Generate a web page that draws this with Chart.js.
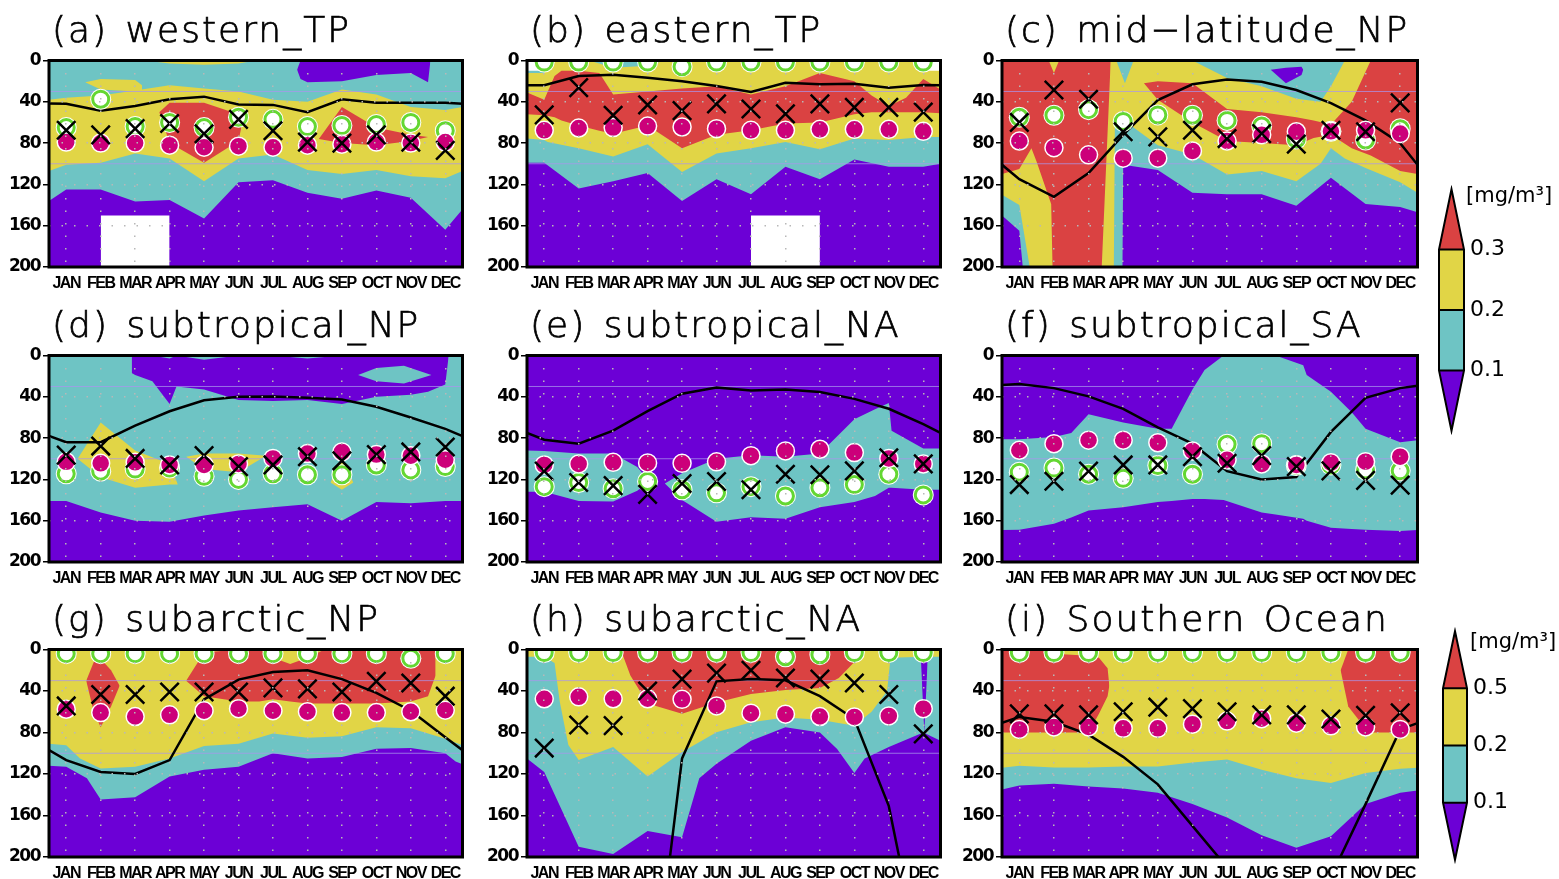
<!DOCTYPE html>
<html><head><meta charset="utf-8">
<script src="https://cdn.jsdelivr.net/npm/chart.js@4/dist/chart.umd.min.js"></script>
<style>
html,body{margin:0;padding:0;background:#fff;}
body{width:1559px;height:879px;overflow:hidden;position:relative;}
.ttl{position:absolute;font-family:'DejaVu Sans ExtraLight','DejaVu Sans',sans-serif;font-weight:200;font-size:36px;line-height:36px;white-space:pre;color:#000;letter-spacing:2px;word-spacing:4px;-webkit-text-stroke:0.7px #000;}
.unit{position:absolute;font-family:'DejaVu Sans',sans-serif;font-size:21px;line-height:22px;white-space:pre;color:#000;}
</style></head><body>
<script>
// ---------- categories / ticks ----------
const MONTHS = ['JAN','FEB','MAR','APR','MAY','JUN','JUL','AUG','SEP','OCT','NOV','DEC'];
const DEPTH_TICKS = [0,40,80,120,160,200];
const REF_DEPTHS = [30,100];
const EDGE_X = [0.5,1,2,3,4,5,6,7,8,9,10,11,12,12.5];
const CB1_LABELS = ['0.1','0.2','0.3'];
const CB2_LABELS = ['0.1','0.2','0.5'];

// ---------- (a) western_TP ----------
const a_mld   = [41.6,42,48.6,44,37.5,35,42.5,43,50,37.5,41,41,41,42];
const a_cross = [67.6,72,66,61,71,57,68,79,80,72,79,87];
const a_pink  = [79,80,80,82,84,83,84,82,81,79,80,79];
const a_ring  = [65,37.5,64,60,65,55,57,64,63,62,60,68];
const a_cyan  = [[0.5,0,136],[1,0,125],[2,0,125],[3,0,136.5],[4,0,135],[5,0,153],[6,0,118],[7,0,116],[8,0,128],[9,0,134],[10,0,126],[11,0,133],[12,0,164],[12.5,0,144]];
const a_purpTop = [[7.7,9,9],[7.8,0,18],[8,0,21],[9,0,20],[10,0,14],[11,0,12],[11.5,0,21],[11.57,0,0]];
const a_yellow = [[0.5,38,107],[1,36,101],[2,34,99],[3,29,90],[4,24,95],[5,27,117],[6,30,95],[7,38,91],[8,40,106],[9,28,110],[10,33,106],[11,45,112],[12,48,114],[12.5,45,107]];
const a_tongue = [[1.55,21,21],[2,18,28],[3,19,30],[3.2,24,30]];
const a_yelTop = [[3.3,0,0],[4,0,3],[5,0,4],[6,0,3],[6.5,0,0]];
const a_red1 = [[3.7,50,50],[4,41,80],[5,41,99],[6,52,78],[6.08,65,65]];
const a_red2 = [[8.33,76,76],[9,45,80],[10,65,82],[11,72,78],[11.5,74,74]];
const a_white = [[2,150,200],[4,150,200]];

// ---------- (b) eastern_TP ----------
const b_mld   = [24,24,15,13.7,16.8,20,24.8,30.5,21.6,23,22.5,26.3,23.8,24];
const b_cross = [52.7,26.3,53,43,48.6,42,47,51.7,42,45.4,45.4,50];
const b_pink  = [67.6,65.4,65,63.5,64.4,66,67.6,67.6,66.7,66.7,66.7,68.6];
const b_ring  = [1.5,1.5,1.5,1.5,6,1.5,1.5,1.5,1.5,1.5,1.5,1.5];
const b_cyan  = [[0.5,0,99],[1,0,99],[2,0,124],[3,0,117],[4,0,109],[5,0,136],[6,0,115],[7,0,129.5],[8,0,103],[9,0,115],[10,0,96],[11,0,103],[12,0,103],[12.5,0,100]];
const b_yellow = [[0.5,12,75.5],[1,12,77],[1.1,0,79],[2,0,85],[3,0,93],[4,0,81],[5,0,108],[6,0,90],[7,0,85],[8,0,79],[9,0,86],[10,0,75.5],[11,0,77],[12,0,74],[12.5,0,74]];
const b_cyanTop = [[2.3,0,0],[3,0,7],[4,0,5],[4.5,0,0]];
const b_red = [[0.5,31,52],[1,38,53],[1.3,15,55],[1.5,10,58],[2,10,63],[2.6,12,68],[3,33,71],[4,30,63],[5,27,85],[6,25,72],[7,33,67.6],[8,25,61],[9,12,60],[10,20,52],[10.5,34,50],[11,44,50],[11.5,36,50],[12,18,50],[12.5,28,51]];
const b_whiteL = [[0.5,0,10],[1.03,0,10]];
const b_whiteR = [[12.1,0,10],[12.5,0,10]];
const b_white = [[7,150,200],[9,150,200]];

// ---------- (c) mid-latitude_NP ----------
const c_mld   = [101,115,132,109,72,38.4,23,18.4,20.6,28.6,41.3,58,80,101];
const c_cross = [60,28.6,37.5,69,74,67.6,75.6,70.8,81,67.6,69,41];
const c_pink  = [78,84.4,91.4,94.6,94.6,87.6,78,72,69,68.6,67.6,70.8];
const c_ring  = [55,53,47.6,59,52.7,53,58,63.5,76,68.6,77,66];
const c_cyan  = [[0.5,0,150],[1,0,165],[1.1,0,200],[3.98,0,200],[4,0,101],[5,0,106],[6,0,128],[7,0,129.5],[8,0,129.5],[9,0,140.6],[10,0,113.6],[11,0,139],[12,0,142],[12.5,0,147]];
const c_purpTop = [[8.26,9,9],[8.7,7,22],[9.15,6,14],[9.2,9,9]];
const c_yellow = [[0.5,0,130],[1,0,140],[1.3,0,200],[3.73,0,200],[3.76,0,60],[3.8,0,55],[4.05,22,55],[4.3,0,65],[5,0,82],[6,0,91],[7,17,110.5],[8,25,107],[9,37,117],[9.7,40,100],[10,25,85],[10.4,0,95],[11,0,104],[12,0,118],[12.5,0,128]];
const c_red1 = [[0.5,0,110],[1,0,105],[1.35,0,85],[1.5,0,98],[1.92,0,139],[1.96,0,200],[3.38,0,200],[3.64,0,0]];
const c_yelNotch = [[1.85,0,0],[2,0,12],[2.15,0,0]];
const c_red2 = [[4.6,22,22],[5,20,38],[6,22,60],[7,47,78],[8,50,80],[9,55,82],[9.5,58,75],[10,62,72],[10.6,40,85],[11.15,0,92],[12,0,107],[12.5,0,110]];

// ---------- (d) subtropical_NP ----------
const d_mld   = [78,83.9,84,68,54,43.4,40,39.6,41,42.7,49.7,60,71,78];
const d_cross = [96.5,87.7,99.7,106,97,107.6,106,98,102,96,93.4,88.6];
const d_pink  = [103,104.4,103.5,106,106,105,99.7,95,93.4,96,97,101];
const d_ring  = [114.6,112,110,109,117,120,114.6,115.5,115.5,106,110.8,107.6];
const d_cyan  = [[0.5,0,140.8],[1,0,141],[2,0,152],[3,0,160],[4,0,161],[5,0,155],[6,0,150],[7,0,147],[8,0,144],[9,0,160],[10,0,142],[11,0,143],[12,0,141],[12.5,0,141]];
const d_purpTop = [[2.9,0,17],[3,0,19],[3.5,0,25],[4,3,47],[4.2,0,30],[5,4,33],[6,0,43],[7,0,44],[8,3,43],[9,0,47],[10,0,40],[11,0,38],[11.5,0,35],[12,0,28],[12.1,0,0]];
const d_cyanDia = [[9.47,19,19],[10,12,25],[10.8,10,27],[11.6,19,19]];
const d_yel1 = [[1.33,100,100],[2,65,118],[3,92,128],[4,105,125],[4.24,125,125]];
const d_yel2 = [[4.48,98,98],[5,95,110],[6,95,113],[6.8,97,97]];
const d_yel3 = [[8.67,123,123],[9,100,130],[9.33,123,123]];

// ---------- (e) subtropical_NA ----------
const e_mld   = [75,81.6,85.4,72.8,53.8,37,31,33.9,33,35.4,42,51.6,66.5,75];
const e_cross = [112,123,126,134.5,124,122,130,115,115.5,111.7,99,105];
const e_pink  = [106,105,103.5,104,104.4,103,97,92.4,90.8,94,99.7,105];
const e_ring  = [127,123,129,122,130,133,127,136,128,125,115,135];
const e_cyan1 = [[0.5,92,132],[1,92.4,132],[2,95,141],[3,95,141.5],[3.7,108,131],[4.05,122,122]];
const e_cyan2 = [[4.5,124,124],[5,114,140],[6,100,161],[7,96.5,156.6],[8,98,158],[9,95,147],[10,61.7,142],[10.6,52,136],[11,46,128],[11.08,73,128],[12,90,130],[12.5,90,130]];

// ---------- (f) subtropical_SA ----------
const f_mld   = [28.5,27.5,31.6,39.6,51.6,69.6,85.4,112,120,117.7,74,41,31.6,29.4];
const f_cross = [125,121.8,112,106,106,98,104.4,97,107.6,111.7,121,125.6];
const f_pink  = [91.8,85.4,82,82,84.5,92.4,101,105,106,103.8,102.8,98];
const f_ring  = [113,109,115,119,106.6,115,86,85.4,106.6,106,110.8,111.7];
const f_cyan  = [[0.5,81,169],[1,81,168.7],[2,79,163],[2.5,75,157],[3,57,150],[4,65,147],[5,71,142],[5.4,71,141],[6,33,139],[6.35,14,139],[6.9,0,140],[8,0,152],[8.4,0,154],[9.2,9.5,158],[9.3,19,160],[10,35,166.8],[10.6,55,168],[11,71,168.7],[12,84,170],[12.5,82,169]];

// ---------- (g) subarctic_NP ----------
const g_mld   = [97,106.6,118,120,106.6,48,29,21.8,20,28.5,41.8,59,84.5,97];
const g_cross = [54.4,43.4,43.4,41,41,41,37,38,41,30.7,32.3,45];
const g_pink  = [57.6,60.8,64.6,63,59,57,59,60,60.8,60.8,60,58.5];
const g_ring  = [4,4,4,4,4,4,4,4,4,4,8.5,4];
const g_cyan  = [[0.5,0,112],[1,0,113],[1.6,0,124],[2,0,144.6],[3,0,142.4],[4,0,122.5],[5,0,116],[6,0,113],[7,0,100],[8,0,105],[9,0,103.5],[10,0,95.6],[11,0,95],[12,0,100],[12.3,0,108],[12.5,0,110.7]];
const g_yellow = [[0.5,0,90.8],[1,0,92.4],[1.4,0,105],[2,0,114.6],[3,0,113],[4,0,105],[5,0,93],[6,0,90.8],[7,0,81],[8,0,85],[9,0,83.5],[10,0,75],[11,0,76],[12,0,86],[12.5,0,92.4]];
const g_red1 = [[1.58,30,30],[1.8,12,60],[2,9,75],[2.3,20,55],[2.55,35,35]];
const g_red2 = [[4.48,30,30],[5,3,45],[6,0,50],[6.6,0,50],[7,8,48],[7.5,14,50],[8,8,52],[8.5,0,52],[9,0,52],[10,0,52],[11,0,50],[11.5,0,45],[11.72,0,25]];

// ---------- (h) subarctic_NA ----------
const h_mld   = [null,null,null,null,376,105,30.7,28.5,29.7,45,67,151,314,null];
const h_cross = [95,72.8,73.4,40,28.5,22.8,20,27.5,28.5,32.3,43.4,81.3];
const h_pink  = [47.5,45.6,47.5,47.5,48,54.4,61.4,62.3,64.6,65,64,57];
const h_ring  = [3,3,3,3,3,3,3,7,5,3,3,3];
const h_cyan  = [[0.5,0,105],[1,0,118],[2,0,190],[3,0,197],[4,0,175],[5,0,181],[5.5,0,124],[6,0,110],[7,0,88],[8,0,75],[9,0,80],[9.5,0,96],[10,0,119],[10.3,0,105],[11,0,94],[12,0,80],[12.5,0,88]];
const h_purpSpike = [[11.93,8,8],[12.03,8,80],[12.13,8,8]];
const h_yellow = [[0.5,0,7],[1,0,7],[1.3,0,13],[1.45,0,50],[1.7,0,92],[2,0,106.6],[3,0,94],[4,0,122.5],[5,0,98.7],[6,0,79.7],[7,0,70],[8,0,65.5],[9,0,67.7],[10,0,73.4],[10.5,0,60],[10.95,0,40],[11.05,0,8],[12,0,7],[12.5,0,7]];
const h_red = [[3.22,0,0],[3.5,0,25],[4,0,52],[5,0,62],[6,0,51],[7,0,43],[8,0,39],[9,0,37],[9.55,0,27.5],[10,0,12],[10.2,0,0]];

// ---------- (i) Southern Ocean ----------
const i_mld   = [70.6,65,69.6,82,103.5,130,170,210,null,null,219,149,77,71];
const i_cross = [62,62,63,60,55.6,57,60,63,63,67,63.5,61];
const i_pink  = [77,74.6,74.6,76,76,72,69,66.7,71,73.6,74.6,77];
const i_ring  = [3,3,3,3,3,3,3,3,3,3,3,3];
const i_cyan  = [[0.5,0,135],[1,0,131],[2,0,129.5],[3,0,132],[4,0,134],[5,0,138],[6,0,149],[7,0,162],[8,0,179],[9,0,191],[10,0,180],[11,0,149],[12,0,138],[12.5,0,136]];
const i_yellow = [[0.5,0,114],[1,0,112],[2,0,113.7],[3,0,113.7],[4,0,112.7],[5,0,112.7],[6,0,109],[7,0,106],[8,0,116],[9,0,124],[10,0,128.6],[11,0,119],[12,0,115],[12.5,0,114]];
const i_red1 = [[0.5,0,80],[1,0,80],[1.6,0,80],[2,4,80],[3,6,80],[3.3,8,62],[3.55,18,45],[3.6,35,35]];
const i_red2 = [[10.28,20,20],[10.5,0,55],[10.9,0,72],[11.2,0,80],[12,0,80],[12.5,0,80]];

// ---------- colours ----------
const PURPLE = '#6C00D6', CYAN = '#6EC4C4', YELLOW = '#E1D546', RED = '#DA4242', WHITE = '#FFFFFF';
const MAGENTA = '#CC007A', GREEN = '#64D732', REFLINE = 'rgba(170,150,235,0.75)';

// ---------- colourbar shapes ----------
const CB_PURPLE = [[0,1,1],[0.5,0,1],[1,1,1]];
const CB_CYAN = [[0,1,2],[1,1,2]];
const CB_YELLOW = [[0,2,3],[1,2,3]];
const CB_RED = [[0,3,3],[0.5,4,3],[1,3,3]];
const CB_OUTLINE = [[0,1],[0.5,0],[1,1],[1,3],[0.5,4],[0,3],[0,1]];

const PANELS = [
 {title:'(a) western_TP', col:0,row:0, mld:a_mld, cross:a_cross, pink:a_pink, ring:a_ring,
  bands:[[a_cyan,CYAN],[a_purpTop,PURPLE],[a_yellow,YELLOW],[a_tongue,YELLOW],[a_yelTop,YELLOW],[a_red1,RED],[a_red2,RED],[a_white,WHITE]]},
 {title:'(b) eastern_TP', col:1,row:0, mld:b_mld, cross:b_cross, pink:b_pink, ring:b_ring,
  bands:[[b_cyan,CYAN],[b_yellow,YELLOW],[b_cyanTop,CYAN],[b_red,RED],[b_whiteL,WHITE],[b_whiteR,WHITE],[b_white,WHITE]]},
 {title:'(c) mid\u2212latitude_NP', col:2,row:0, mld:c_mld, cross:c_cross, pink:c_pink, ring:c_ring,
  bands:[[c_cyan,CYAN],[c_purpTop,PURPLE],[c_yellow,YELLOW],[c_red1,RED],[c_yelNotch,YELLOW],[c_red2,RED]]},
 {title:'(d) subtropical_NP', col:0,row:1, mld:d_mld, cross:d_cross, pink:d_pink, ring:d_ring,
  bands:[[d_cyan,CYAN],[d_purpTop,PURPLE],[d_cyanDia,CYAN],[d_yel1,YELLOW],[d_yel2,YELLOW],[d_yel3,YELLOW]]},
 {title:'(e) subtropical_NA', col:1,row:1, mld:e_mld, cross:e_cross, pink:e_pink, ring:e_ring,
  bands:[[e_cyan1,CYAN],[e_cyan2,CYAN]]},
 {title:'(f) subtropical_SA', col:2,row:1, mld:f_mld, cross:f_cross, pink:f_pink, ring:f_ring,
  bands:[[f_cyan,CYAN]]},
 {title:'(g) subarctic_NP', col:0,row:2, mld:g_mld, cross:g_cross, pink:g_pink, ring:g_ring,
  bands:[[g_cyan,CYAN],[g_yellow,YELLOW],[g_red1,RED],[g_red2,RED]]},
 {title:'(h) subarctic_NA', col:1,row:2, mld:h_mld, cross:h_cross, pink:h_pink, ring:h_ring,
  bands:[[h_cyan,CYAN],[h_purpSpike,PURPLE],[h_yellow,YELLOW],[h_red,RED]]},
 {title:'(i) Southern Ocean', col:2,row:2, mld:i_mld, cross:i_cross, pink:i_pink, ring:i_ring,
  bands:[[i_cyan,CYAN],[i_yellow,YELLOW],[i_red1,RED],[i_red2,RED]]}
];

// ---------- layout ----------
const COL_L = [49,527,1002], COL_R = [470,948,1425];
const ROW_T = [57,352,646], ROW_B = [267,562,857];

const bgPlugin = {id:'bgfill', beforeDatasetsDraw(chart){const {ctx,chartArea:a}=chart;ctx.save();ctx.fillStyle=PURPLE;ctx.fillRect(a.left,a.top,a.right-a.left,a.bottom-a.top);ctx.restore();}};
const framePlugin = {id:'frame', afterDraw(chart){const {ctx,chartArea:a}=chart;ctx.save();ctx.strokeStyle='#000';ctx.lineWidth=3;ctx.strokeRect(a.left,a.top,a.right-a.left,a.bottom-a.top);ctx.restore();}};
const tightText = {id:'tight', beforeInit(chart){ chart.ctx.letterSpacing='-1.5px'; }, beforeDraw(chart){ chart.ctx.letterSpacing='-1.5px'; }};

function addDiv(cls, text, left, top){
  const d=document.createElement('div'); d.className=cls; d.textContent=text;
  d.style.left=left+'px'; d.style.top=top+'px'; document.body.appendChild(d); return d;
}

function makePanel(p){
  const L=COL_L[p.col], R=COL_R[p.col], T=ROW_T[p.row], B=ROW_B[p.row];
  const W=R-L+57, H=B-T+42;
  const cv=document.createElement('canvas'); cv.width=W; cv.height=H;
  cv.style.cssText=`position:absolute;left:${L-49}px;top:${T-12}px;width:${W}px;height:${H}px;`;
  document.body.appendChild(cv);
  addDiv('ttl', p.title, L+3, T-45);
  const ds=[]; const add=d=>{ds.push(d);return ds.length-1;};
  p.bands.forEach(([rows,color])=>{
    const ti=add({data:rows.map(r=>({x:r[0],y:r[1]})),borderWidth:0,pointRadius:0,fill:false});
    add({data:rows.map(r=>({x:r[0],y:r[2]})),borderWidth:0,pointRadius:0,fill:ti,backgroundColor:color});
  });
  REF_DEPTHS.forEach(d=>add({data:[{x:0.5,y:d},{x:12.5,y:d}],borderColor:REFLINE,borderWidth:1,pointRadius:0,fill:false}));
  add({data:EDGE_X.map((x,i)=>({x,y:p.mld[i]})),borderColor:'#000',borderWidth:2.5,pointRadius:0,fill:false,spanGaps:false});
  const pts=arr=>arr.map((v,i)=>({x:i+1,y:v}));
  add({data:pts(p.ring),showLine:false,pointRadius:10.5,pointBackgroundColor:'#fff',pointBorderWidth:0,pointBorderColor:'#fff'});
  add({data:pts(p.ring),showLine:false,pointRadius:8,pointBackgroundColor:'#fff',pointBorderColor:GREEN,pointBorderWidth:3});
  add({data:pts(p.pink),showLine:false,pointRadius:9,pointBackgroundColor:MAGENTA,pointBorderColor:'#fff',pointBorderWidth:1.5});
  add({data:pts(p.cross),showLine:false,pointStyle:'crossRot',pointRadius:13,pointBorderColor:'#000',pointBorderWidth:2.5});
  ds.forEach((d,i)=>{d.order=ds.length-i;});
  new Chart(cv,{
    type:'line',
    data:{datasets:ds},
    options:{
      responsive:false, animation:false, events:[],
      layout:{padding:{top:12,right:8,left:0,bottom:0}},
      plugins:{legend:{display:false},tooltip:{enabled:false},title:{display:false}},
      elements:{line:{tension:0}},
      scales:{
        x:{type:'linear',min:0.5,max:12.5,
          afterBuildTicks:s=>{s.ticks=MONTHS.map((m,i)=>({value:i+1}));},
          afterFit:s=>{s.height=30;},
          ticks:{autoSkip:false,maxRotation:0,minRotation:0,padding:7,color:'#000',
            font:{family:"'Liberation Sans',Arial,sans-serif",weight:'bold',size:16},
            callback:(v,i)=>MONTHS[i]},
          grid:{z:1,color:'#B8B8B8',lineWidth:1.5,drawTicks:false},
          border:{display:false,dash:[1.5,11]}},
        y:{type:'linear',reverse:true,min:0,max:200,
          afterBuildTicks:s=>{s.ticks=DEPTH_TICKS.map(v=>({value:v}));},
          afterFit:s=>{s.width=49;},
          ticks:{padding:3,color:'#000',font:{family:"'DejaVu Sans',sans-serif",weight:'bold',size:17}},
          grid:{z:1,color:'#B8B8B8',lineWidth:1.5,drawTicks:true,tickLength:6,tickColor:'#000',tickWidth:1.5,tickBorderDash:[]},
          border:{display:false,dash:[1.5,11]}}
      }
    },
    plugins:[tightText,bgPlugin,framePlugin]
  });
}

function makeColorbar(labels, left, top, width, height, barLeft, barRight, apexTop, apexBottom){
  const cv=document.createElement('canvas'); cv.width=width; cv.height=height;
  cv.style.cssText=`position:absolute;left:${left}px;top:${top}px;width:${width}px;height:${height}px;`;
  document.body.appendChild(cv);
  const ds=[]; const add=d=>{ds.push(d);return ds.length-1;};
  [[CB_PURPLE,PURPLE],[CB_CYAN,CYAN],[CB_YELLOW,YELLOW],[CB_RED,RED]].forEach(([rows,color])=>{
    const ti=add({data:rows.map(r=>({x:r[0],y:r[1]})),borderWidth:0,pointRadius:0,fill:false,clip:4});
    add({data:rows.map(r=>({x:r[0],y:r[2]})),borderWidth:0,pointRadius:0,fill:ti,backgroundColor:color,clip:4});
  });
  [1,2,3].forEach(v=>add({data:[{x:0,y:v},{x:1,y:v}],borderColor:'#000',borderWidth:2,pointRadius:0,fill:false,clip:4}));
  add({data:CB_OUTLINE.map(r=>({x:r[0],y:r[1]})),borderColor:'#000',borderWidth:2,pointRadius:0,fill:false,clip:4,borderJoinStyle:'miter'});
  ds.forEach((d,i)=>{d.order=ds.length-i;});
  const padL=barLeft-left, padT=apexTop-top, padB=top+height-apexBottom, yW=left+width-barRight;
  new Chart(cv,{
    type:'line', data:{datasets:ds},
    options:{responsive:false,animation:false,events:[],
      layout:{padding:{left:padL,top:padT,bottom:padB,right:0}},
      plugins:{legend:{display:false},tooltip:{enabled:false}},
      scales:{
        x:{type:'linear',min:0,max:1,display:false},
        y:{type:'linear',position:'right',min:0,max:4,
          afterBuildTicks:s=>{s.ticks=[1,2,3].map(v=>({value:v}));},
          afterFit:s=>{s.width=yW;},
          ticks:{padding:6,color:'#000',font:{family:"'DejaVu Sans',sans-serif",size:22},callback:(v,i)=>labels[i]},
          grid:{display:false,drawTicks:false},border:{display:false}}
      }
    }
  });
}

PANELS.forEach(makePanel);
makeColorbar(CB1_LABELS, 1430, 170, 129, 280, 1439, 1464, 183, 437);
addDiv('unit','[mg/m\u00B3]',1466,184);
makeColorbar(CB2_LABELS, 1433, 612, 126, 267, 1443, 1467, 625, 878);
addDiv('unit','[mg/m\u00B3]',1470,630);
</script>
</body></html>
